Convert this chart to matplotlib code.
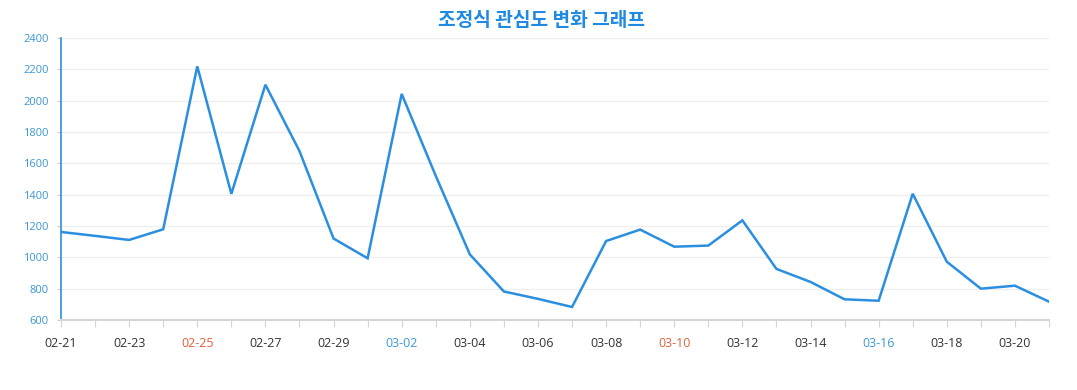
import matplotlib
matplotlib.use("Agg")
import matplotlib.pyplot as plt
import numpy as np

dates = ["02-21", "02-22", "02-23", "02-24", "02-25", "02-26", "02-27", "02-28", "02-29",
         "03-01", "03-02", "03-03", "03-04", "03-05", "03-06", "03-07", "03-08", "03-09",
         "03-10", "03-11", "03-12", "03-13", "03-14", "03-15", "03-16", "03-17", "03-18",
         "03-19", "03-20", "03-21"]
values = [1162, 1137, 1111, 1179, 2219, 1405, 2102, 1678, 1120,
          994, 2043, 1520, 1019, 782, 735, 683, 1104, 1177,
          1068, 1075, 1236, 926, 843, 732, 723, 1406, 972,
          800, 819, 717]
yticks = [600, 800, 1000, 1200, 1400, 1600, 1800, 2000, 2200, 2400]
red_labels = ["02-25", "03-10"]
blue_labels = ["03-02", "03-16"]
title = "조정식 관심도 변화 그래프"

plt.rcParams['font.family'] = ['Open Sans', 'Noto Sans CJK KR', 'DejaVu Sans']

fig = plt.figure(figsize=(10.77, 3.9), dpi=100)
ax = fig.add_axes([61/1077, 1 - 320/390, (1049 - 61)/1077, (320 - 38)/390])

x = np.arange(len(dates))
ax.plot(x, values, color="#2a8fe0", linewidth=1.8, solid_joinstyle="miter", zorder=3)

ax.set_xlim(0, len(dates) - 1)
ax.set_ylim(600, 2400)
ax.set_yticks(yticks)
ax.set_yticklabels([str(v) for v in yticks], color="#3a96d6", fontsize=8)
ax.tick_params(axis="y", length=3, color="#cccccc", pad=6)

ax.set_xticks(x)
labels = [d if i % 2 == 0 else "" for i, d in enumerate(dates)]
ax.set_xticklabels(labels, fontsize=9)
for lbl, d in zip(ax.get_xticklabels(), dates):
    if d in red_labels:
        lbl.set_color("#e0603e")
    elif d in blue_labels:
        lbl.set_color("#3a9ad6")
    else:
        lbl.set_color("#333333")
ax.tick_params(axis="x", length=5, color="#d5d5d5", pad=7, direction="out")

ax.grid(axis="y", color="#eeeeee", linewidth=0.9, zorder=0)
ax.set_axisbelow(True)
for s in ["top", "right"]:
    ax.spines[s].set_visible(False)
ax.spines["left"].set_color("#2a8fe0")
ax.spines["left"].set_linewidth(1.2)
ax.spines["bottom"].set_color("#d5d5d5")
ax.spines["bottom"].set_linewidth(1.5)

fig.text(542/1077, 1 - 20/390, title, ha="center", va="center", fontsize=13.8,
         fontweight="bold", color="#1f8ae3", family=['Noto Sans CJK KR', 'DejaVu Sans'])

fig.savefig("out.png", dpi=100, facecolor="white")
